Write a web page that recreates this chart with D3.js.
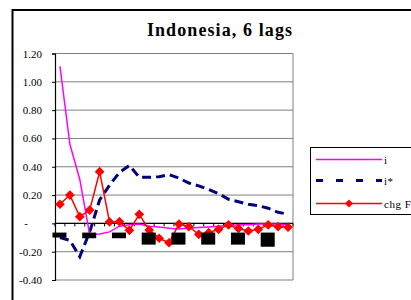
<!DOCTYPE html>
<html>
<head>
<meta charset="utf-8">
<script src="https://cdn.jsdelivr.net/npm/d3@7"></script>
<style>
  body { margin: 0; background: #fff; }
  svg { display: block; }
  text { font-family: "Liberation Serif", "Times New Roman", serif; }
</style>
</head>
<body>
<div id="chart"></div>
<script>
// categories (lags)
const lags = [1, 2, 3, 4, 5, 6, 7, 8, 9, 10, 11, 12, 13, 14, 15, 16, 17, 18, 19, 20, 21, 22, 23, 24];

// series
const iVals = [1.11, 0.56, 0.31, -0.08, -0.075, -0.06, -0.02, -0.01, -0.005, -0.02, -0.025, -0.035,
               -0.04, -0.035, -0.03, -0.025, -0.02, -0.015, -0.01, -0.01, -0.005, -0.005, -0.005, -0.01];
const iStarVals = [-0.10, -0.12, -0.235, -0.06, 0.165, 0.27, 0.36, 0.41, 0.325, 0.325, 0.33, 0.345,
                   0.32, 0.285, 0.265, 0.24, 0.21, 0.17, 0.153, 0.135, 0.125, 0.107, 0.078, 0.065];
const chgFVals = [0.135, 0.20, 0.047, 0.094, 0.365, 0.010, 0.012, -0.049, 0.064, -0.047, -0.105, -0.137,
                  -0.005, -0.023, -0.077, -0.066, -0.042, -0.011, -0.036, -0.054, -0.042, -0.011, -0.023, -0.027];

// black blocks under the axis (every third lag)
const blockLags = [1, 4, 7, 10, 13, 16, 19, 22];
const blockTop = [-0.065, -0.065, -0.065, -0.065, -0.065, -0.065, -0.065, -0.065];
const blockBottom = [-0.10, -0.105, -0.105, -0.15, -0.15, -0.15, -0.15, -0.165];

// value axis
const yTicks = [1.2, 1.0, 0.8, 0.6, 0.4, 0.2, 0, -0.2, -0.4];
const yTickLabels = ['1.20', '1.00', '0.80', '0.60', '0.40', '0.20', '-', '-0.20', '-0.40'];

const legendNames = ['i', 'i*', 'chg F'];

const width = 411, height = 300;
const plot = { left: 55, right: 293, top: 53.5, bottom: 280 };

const svg = d3.select('#chart').append('svg')
    .attr('width', width)
    .attr('height', height);

// outer chart frame (runs off the picture to the right and bottom)
svg.append('path')
    .attr('d', `M12.5,${height + 5} V10 H${width + 5}`)
    .attr('fill', 'none')
    .attr('stroke', '#000')
    .attr('stroke-width', 2);

// title
svg.append('text')
    .attr('x', 220)
    .attr('y', 36)
    .attr('text-anchor', 'middle')
    .attr('font-size', 18)
    .attr('font-weight', 'bold')
    .attr('letter-spacing', 1.1)
    .text('Indonesia, 6 lags');

const x = d3.scaleBand()
    .domain(lags)
    .range([plot.left, plot.right]);

const y = d3.scaleLinear()
    .domain([-0.4, 1.2])
    .range([plot.bottom, plot.top]);

const cx = d => x(d) + x.bandwidth() / 2;

// gridlines
svg.append('g')
    .selectAll('line')
    .data(yTicks)
    .join('line')
    .attr('x1', plot.left)
    .attr('x2', plot.right)
    .attr('y1', d => y(d))
    .attr('y2', d => y(d))
    .attr('stroke', '#808080')
    .attr('stroke-width', 1);

// right border of the plot area
svg.append('line')
    .attr('x1', plot.right).attr('x2', plot.right)
    .attr('y1', plot.top).attr('y2', plot.bottom)
    .attr('stroke', '#808080');

// value axis
const yAxis = svg.append('g')
    .attr('transform', `translate(${plot.left},0)`)
    .call(d3.axisLeft(y)
        .tickValues(yTicks)
        .tickSize(3)
        .tickPadding(10)
        .tickFormat((d, i) => yTickLabels[i]));
yAxis.select('.domain').attr('stroke', '#000').attr('stroke-width', 1.2);
yAxis.selectAll('.tick line').attr('stroke', '#000');
yAxis.selectAll('.tick text')
    .attr('font-family', '"Liberation Serif", serif')
    .attr('font-size', 11)
    .attr('fill', '#000')
    .attr('dx', (d, i) => yTickLabels[i] === '-' ? -14 : 0);

// category axis at zero, ticks between categories
svg.append('line')
    .attr('x1', plot.left).attr('x2', plot.right)
    .attr('y1', y(0)).attr('y2', y(0))
    .attr('stroke', '#000').attr('stroke-width', 1.2);
svg.append('g')
    .selectAll('line')
    .data(lags.concat([null]))
    .join('line')
    .attr('x1', (d, i) => plot.left + i * x.step())
    .attr('x2', (d, i) => plot.left + i * x.step())
    .attr('y1', y(0))
    .attr('y2', y(0) + 3)
    .attr('stroke', '#000');

// i* dashed navy
svg.append('path')
    .datum(iStarVals)
    .attr('fill', 'none')
    .attr('stroke', '#000080')
    .attr('stroke-width', 3)
    .attr('stroke-dasharray', '9,5')
    .attr('d', d3.line().x((d, i) => cx(lags[i])).y(d => y(d)));

// i magenta
svg.append('path')
    .datum(iVals)
    .attr('fill', 'none')
    .attr('stroke', '#ff00ff')
    .attr('stroke-width', 1.5)
    .attr('d', d3.line().x((d, i) => cx(lags[i])).y(d => y(d)));

// chg F red with diamonds
svg.append('path')
    .datum(chgFVals)
    .attr('fill', 'none')
    .attr('stroke', '#ff0000')
    .attr('stroke-width', 1.5)
    .attr('d', d3.line().x((d, i) => cx(lags[i])).y(d => y(d)));

const diamond = d3.symbol().type(d3.symbolDiamond2).size(60);
svg.append('g')
    .selectAll('path')
    .data(chgFVals)
    .join('path')
    .attr('transform', (d, i) => `translate(${cx(lags[i])},${y(d)})`)
    .attr('d', diamond)
    .attr('fill', '#ff0000');

// black blocks
svg.append('g')
    .selectAll('rect')
    .data(blockLags)
    .join('rect')
    .attr('x', d => cx(d) - 7.5)
    .attr('width', 14)
    .attr('y', (d, i) => y(blockTop[i]))
    .attr('height', (d, i) => y(blockBottom[i]) - y(blockTop[i]))
    .attr('fill', '#000');

// legend
const legend = svg.append('g');
legend.append('rect')
    .attr('x', 310.5)
    .attr('y', 147.5)
    .attr('width', 120)
    .attr('height', 67)
    .attr('fill', '#fff')
    .attr('stroke', '#000');

const legendY = [159.5, 180.5, 203.5];
const legendStyles = [
    { stroke: '#ff00ff', width: 1.5, dash: null },
    { stroke: '#000080', width: 3, dash: '7,13' },
    { stroke: '#ff0000', width: 1.5, dash: null }
];

legendNames.forEach((name, i) => {
    legend.append('line')
        .attr('x1', 316)
        .attr('x2', 382)
        .attr('y1', legendY[i])
        .attr('y2', legendY[i])
        .attr('stroke', legendStyles[i].stroke)
        .attr('stroke-width', legendStyles[i].width)
        .attr('stroke-dasharray', legendStyles[i].dash);
    legend.append('text')
        .attr('x', 384)
        .attr('y', legendY[i] + 4)
        .attr('font-size', 11)
        .attr('letter-spacing', 0.5)
        .text(name);
});

legend.append('path')
    .attr('transform', `translate(349,${legendY[2]})`)
    .attr('d', d3.symbol().type(d3.symbolDiamond2).size(40))
    .attr('fill', '#ff0000');
</script>
</body>
</html>
